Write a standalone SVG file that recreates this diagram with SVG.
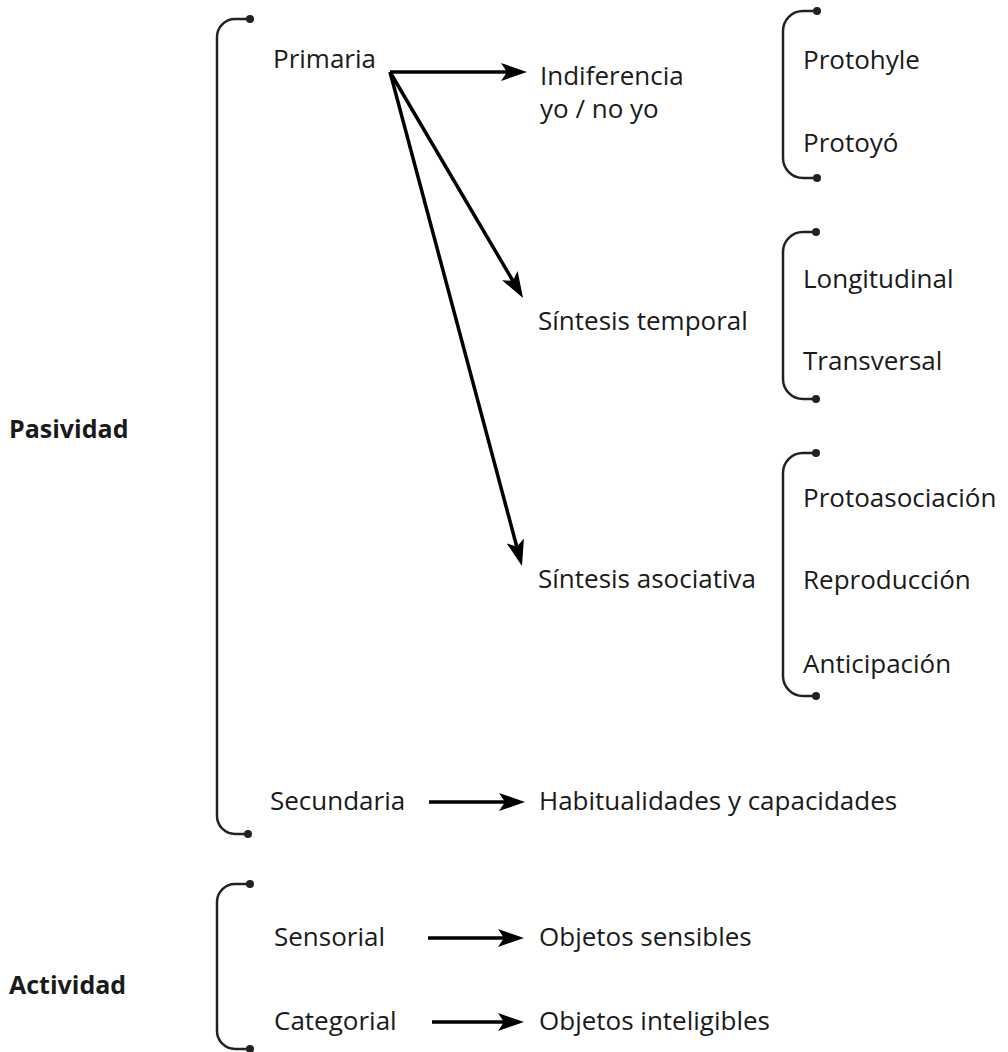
<svg xmlns="http://www.w3.org/2000/svg" width="1008" height="1052" viewBox="0 0 1008 1052">
<style>
text{font-family:"Open Sans","Noto Sans","DejaVu Sans",sans-serif;font-size:26px;fill:#1a1a1a}
.b{font-weight:bold;font-size:25px}
.br{fill:none;stroke:#222;stroke-width:2.5}
.dot{fill:#222}
.ar{stroke:#000;stroke-width:3.5;fill:none;marker-end:url(#ah)}
</style>
<defs>
<marker id="ah" viewBox="0 0 26 18" refX="6" refY="9" markerWidth="26" markerHeight="18" markerUnits="userSpaceOnUse" orient="auto">
<path d="M0,0 L26,9 L0,18 L6,9 z" fill="#000"/>
</marker>
</defs>
<rect width="1008" height="1052" fill="#fff"/>
<g id="pasividad">
<path class="br" d="M250,19 H235 A18,18 0 0 0 217,37 V816 A18,18 0 0 0 235,834 H248"/>
<circle class="dot" cx="250" cy="19" r="4"/><circle class="dot" cx="248" cy="834" r="4"/>
<text class="b" x="9" y="438">Pasividad</text>
</g>
<g id="primaria"><text x="273" y="68">Primaria</text></g>
<g id="indiferencia"><text x="540" y="85">Indiferencia</text><text x="540" y="118">yo / no yo</text></g>
<g id="bracket1">
<path class="br" d="M817,11 H803 A20,20 0 0 0 783,31 V158 A20,20 0 0 0 803,178 H817"/>
<circle class="dot" cx="817" cy="11" r="4"/><circle class="dot" cx="817" cy="178" r="4"/>
<text x="803" y="69">Protohyle</text><text x="803" y="152">Protoyó</text>
</g>
<g id="temporal"><text x="538" y="330">Síntesis temporal</text></g>
<g id="bracket2">
<path class="br" d="M816,232 H803 A20,20 0 0 0 783,252 V379 A20,20 0 0 0 803,399 H816"/>
<circle class="dot" cx="816" cy="232" r="4"/><circle class="dot" cx="816" cy="399" r="4"/>
<text x="803" y="288">Longitudinal</text><text x="803" y="370">Transversal</text>
</g>
<g id="asociativa"><text x="538" y="588">Síntesis asociativa</text></g>
<g id="bracket3">
<path class="br" d="M816,453 H803 A20,20 0 0 0 783,473 V676 A20,20 0 0 0 803,696 H816"/>
<circle class="dot" cx="816" cy="453" r="4"/><circle class="dot" cx="816" cy="696" r="4"/>
<text x="803" y="507">Protoasociación</text><text x="803" y="589">Reproducción</text><text x="803" y="673">Anticipación</text>
</g>
<g id="secundaria"><text x="270" y="810">Secundaria</text></g>
<g id="habitualidades"><text x="539" y="810">Habitualidades y capacidades</text></g>
<g id="actividad">
<path class="br" d="M250,884 H235 A18,18 0 0 0 217,902 V1031 A18,18 0 0 0 235,1049 H250"/>
<circle class="dot" cx="250" cy="884" r="4"/><circle class="dot" cx="250" cy="1049" r="4"/>
<text class="b" x="9" y="994">Actividad</text>
</g>
<g id="sensorial"><text x="274" y="946">Sensorial</text></g>
<g id="sensibles"><text x="539" y="946">Objetos sensibles</text></g>
<g id="categorial"><text x="274" y="1030">Categorial</text></g>
<g id="inteligibles"><text x="539" y="1030">Objetos inteligibles</text></g>
<g id="connectors">
<line class="ar" x1="390" y1="72" x2="507" y2="72"/>
<line class="ar" x1="390" y1="72" x2="512.9" y2="280.8"/>
<line class="ar" x1="390" y1="72" x2="516.8" y2="546.7"/>
<line class="ar" x1="429" y1="802" x2="505" y2="802"/>
<line class="ar" x1="428" y1="938" x2="504" y2="938"/>
<line class="ar" x1="432" y1="1022" x2="504" y2="1022"/>
</g>
</svg>
